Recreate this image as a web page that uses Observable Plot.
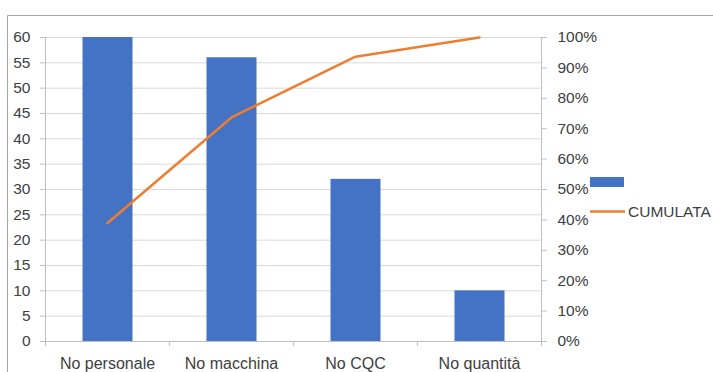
<!DOCTYPE html>
<html>
<head>
<meta charset="utf-8">
<script src="https://cdn.jsdelivr.net/npm/d3@7"></script>
<script src="https://cdn.jsdelivr.net/npm/@observablehq/plot@0.6"></script>
<style>
  html, body { margin: 0; padding: 0; background: #fff; overflow: hidden; }
  #chart { position: relative; width: 713px; height: 372px; }
</style>
</head>
<body>
<div id="chart"></div>
<script>
const categories = ["No personale", "No macchina", "No CQC", "No quantità"];
const counts = [60, 56, 32, 10];
const cumulata = [0.39, 0.737, 0.937, 1.0];
const leftTicks = [0, 5, 10, 15, 20, 25, 30, 35, 40, 45, 50, 55, 60];
const rightTicks = [0, 0.1, 0.2, 0.3, 0.4, 0.5, 0.6, 0.7, 0.8, 0.9, 1.0];
const seriesLabel = "CUMULATA";

const maxLeft = 60;
const data = categories.map((c, i) => ({cat: c, i, count: counts[i], cum: cumulata[i]}));
const bounds = d3.range(categories.length + 1);

const textColor = "#404040";
const font = "'Liberation Sans', Arial, sans-serif";

const plot = Plot.plot({
  width: 713,
  height: 372,
  marginLeft: 45,
  marginRight: 172,
  marginTop: 37,
  marginBottom: 31,
  style: {fontFamily: font, fontSize: "15.5px", color: textColor, background: "#fff", overflow: "visible"},
  x: {type: "linear", domain: [0, categories.length]},
  y: {domain: [0, maxLeft]},
  marks: [
    Plot.ruleY(leftTicks, {stroke: "#d9d9d9", strokeWidth: 1}),
    Plot.rectY(data, {x1: "i", x2: d => d.i + 1, y: "count", fill: "#4472C4", insetLeft: 37.5, insetRight: 36.5}),
    Plot.line(data, {x: d => d.i + 0.5, y: d => d.cum * maxLeft, stroke: "#ED7D31", strokeWidth: 2.5}),
    Plot.ruleX([0, categories.length], {stroke: "#bfbfbf", strokeWidth: 1}),
    Plot.ruleY([0], {stroke: "#bfbfbf", strokeWidth: 1}),
    Plot.axisY({anchor: "left", ticks: leftTicks, tickSize: 5, tickPadding: 10, stroke: "#bfbfbf", fill: textColor, label: null}),
    Plot.axisY({anchor: "right", ticks: rightTicks.map(v => v * maxLeft), tickFormat: d => Math.round(d / maxLeft * 100) + "%", tickSize: 5, tickPadding: 11, stroke: "#bfbfbf", fill: textColor, label: null}),
    Plot.axisX({ticks: bounds, tickSize: 5, tickFormat: () => "", stroke: "#bfbfbf", label: null}),
    Plot.axisX({ticks: categories.map((c, i) => i + 0.5), tickFormat: d => categories[Math.floor(d)], tickSize: 0, tickPadding: 16, fill: textColor, fontSize: 16, label: null})
  ]
});

const svg = d3.select(plot);
// chart border (top and left edge visible)
svg.append("line").attr("x1", 7.5).attr("x2", 713).attr("y1", 15.5).attr("y2", 15.5).attr("stroke", "#a6a6a6");
svg.append("line").attr("x1", 7.5).attr("x2", 7.5).attr("y1", 15.5).attr("y2", 372).attr("stroke", "#a6a6a6");
// legend
svg.append("rect").attr("x", 590).attr("y", 177).attr("width", 34).attr("height", 10).attr("fill", "#4472C4");
svg.append("line").attr("x1", 590).attr("x2", 625).attr("y1", 211.5).attr("y2", 211.5).attr("stroke", "#ED7D31").attr("stroke-width", 2.5);
svg.append("text").attr("x", 628).attr("y", 217).attr("text-anchor", "start").attr("fill", textColor).attr("font-family", font).attr("font-size", "15.5px").text(seriesLabel);

document.getElementById("chart").appendChild(plot);
</script>
</body>
</html>
